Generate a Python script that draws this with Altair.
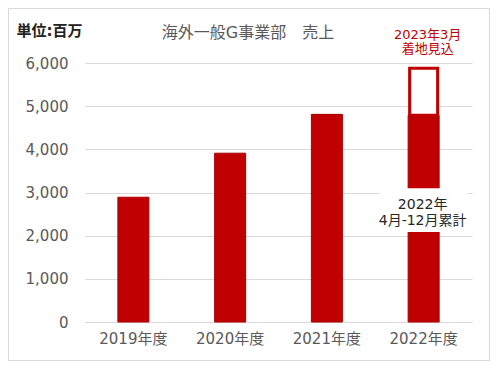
import altair as alt
import pandas as pd

# ---- data ----
years = ["2019年度", "2020年度", "2021年度", "2022年度"]
sales = [2890, 3910, 4810, 4790]          # 2022: Apr-Dec cumulative
forecast_year = "2022年度"
forecast_value = 5880                      # Mar-2023 landing forecast
label_gap = [2085, 3100]                   # white label band on 2022 bar
y_ticks = [0, 1000, 2000, 3000, 4000, 5000, 6000]
chart_title = "海外一般G事業部　売上"
unit_label = "単位:百万"
forecast_label = "2023年3月\n着地見込"
actual_label = "2022年\n4月-12月累計"

RED = "#C00000"
GRAY = "#595959"
FONT = "DejaVu Sans, Noto Sans CJK JP"

df = pd.DataFrame({"year": years, "sales": sales})
df_fc = pd.DataFrame({"year": [forecast_year], "fc": [forecast_value],
                      "act": [sales[years.index(forecast_year)]]})
df_gap = pd.DataFrame({"year": [forecast_year], "lo": [label_gap[0]], "hi": [label_gap[1]],
                       "mid": [(label_gap[0] + label_gap[1]) / 2],
                       "lab": [actual_label]})
df_one = pd.DataFrame({"t": [chart_title], "f": [forecast_label]})

x_enc = alt.X("year:N", sort=years,
              scale=alt.Scale(domain=years, paddingInner=0.1, paddingOuter=0.05),
              axis=alt.Axis(title=None, labelAngle=0, labelFontSize=15, labelColor=GRAY,
                            labelFont=FONT, labelPadding=9, ticks=False,
                            domainColor="#D9D9D9", grid=False))
y_scale = alt.Scale(domain=[0, 6000], nice=False)
y_axis = alt.Axis(values=y_ticks, format=",d", title=unit_label, titleAngle=0,
                  titleX=-69, titleY=-33, titleAlign="left", titleBaseline="middle",
                  titleFontSize=15, titleFont=FONT, titleColor="#222222", titleFontWeight="bold",
                  labelFontSize=15, labelColor=GRAY, labelFont=FONT, labelPadding=17,
                  ticks=False, domain=False, grid=True, gridColor="#D9D9D9")

frame = alt.Chart(df_one).mark_rect(fill="transparent", stroke="#D9D9D9", strokeWidth=1).encode(
    x=alt.value(-76.5), x2=alt.value(404.5), y=alt.value(-54.5), y2=alt.value(297.5))

bars = alt.Chart(df).mark_bar(width=31, color=RED, stroke="#A80000", strokeWidth=1).encode(
    x=x_enc, y=alt.Y("sales:Q", scale=y_scale, axis=y_axis))

fc_box = alt.Chart(df_fc).mark_bar(width=28, fill="white", stroke=RED, strokeWidth=3).encode(
    x=alt.X("year:N", sort=years), y=alt.Y("fc:Q", scale=y_scale), y2="act:Q")

gap = alt.Chart(df_gap).mark_bar(width=88, fill="white").encode(
    x=alt.X("year:N", sort=years), y=alt.Y("lo:Q", scale=y_scale), y2="hi:Q")

gap_text = alt.Chart(df_gap).mark_text(font=FONT, fontSize=14, color="#262626",
                                       lineBreak="\n", lineHeight=16, baseline="top",
                                       dy=-12, dx=-1).encode(
    x=alt.X("year:N", sort=years), y=alt.Y("mid:Q", scale=y_scale), text="lab:N")

fc_text = alt.Chart(df_fc.assign(f=forecast_label)).mark_text(
    font=FONT, fontSize=13, color=RED, lineBreak="\n", lineHeight=14,
    baseline="top", dy=-39, dx=4).encode(
    x=alt.X("year:N", sort=years), y=alt.Y("fc:Q", scale=y_scale), text="f:N")

title = alt.Chart(df_one).mark_text(font=FONT, fontSize=16, color=GRAY, baseline="middle").encode(
    x=alt.value(163), y=alt.value(-30), text="t:N")

chart = alt.layer(frame, bars, fc_box, gap, gap_text, fc_text, title).properties(
    width=387, height=259,
    autosize=alt.AutoSizeParams(type="none"),
    padding={"left": 77, "top": 55, "right": 18, "bottom": 40},
    background="white",
).configure_view(stroke=None)

chart.save("out.html", embed_options={"renderer": "svg", "actions": False})
